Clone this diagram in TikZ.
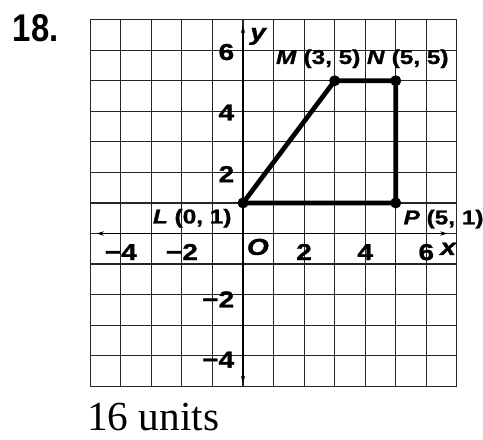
\documentclass[tikz,border=0pt]{standalone}
\usepackage{fontspec}
\setmainfont{Liberation Serif}
\newfontfamily\lblfont[FakeStretch=1.22, BoldFeatures={FakeBold=1.2}, BoldItalicFeatures={FakeBold=1.2}]{Liberation Sans}
\newfontfamily\numfont[FakeStretch=0.85]{Liberation Sans}
\usetikzlibrary{arrows.meta}

\tikzset{
  gridline/.style={line width=1.1pt, black!85},
  axisline/.style={line width=1.6pt, black, >={Stealth[length=7pt,width=4pt]}},
  edge/.style={line width=4.4pt, black, line join=round},
  ptlabel/.style={inner sep=0pt, font=\lblfont\bfseries\fontsize{18.6}{21}\selectfont},
  ticklabel/.style={inner sep=0pt, font=\lblfont\bfseries\fontsize{21.5}{25}\selectfont},
}

\begin{document}
\begin{tikzpicture}
    \useasboundingbox (-7.954,-6.727) rectangle (7.856,7.643);
    % grid and axes
    \draw[gridline] (-5,-5) grid (7,7);
    \draw[axisline, <->] (-4.8,0) -- (6.7,0);
    \draw[axisline, <->] (0,-4.9) -- (0,6.8);
    \node[ticklabel, anchor=base west] (xlab) at (6.45,-0.70) {\itshape x};
    \node[ticklabel, anchor=base west] (ylab) at (0.23,6.33) {\itshape y};
    \node[ticklabel, anchor=base west] (olab) at (0.12,-0.70) {\itshape O};
    % tick labels
    \foreach \t/\s in {-4/−4, -2/−2, 2/2, 4/4, 6/6}
        \node[ticklabel, anchor=base] (xt\t) at (\t,-0.87) {\s};
    \foreach \t/\s/\d in {6/6/0.32, 4/4/0.30, 2/2/0.32, -2/−2/0.42, -4/−4/0.39}
        \node[ticklabel, anchor=base east] (yt\t) at (-0.28,\t-\d) {\s};
    % quadrilateral LMNP
    \coordinate (L) at (0,1);
    \coordinate (M) at (3,5);
    \coordinate (N) at (5,5);
    \coordinate (P) at (5,1);
    \draw[edge] (L) -- (M) -- (N) -- (P) -- cycle;
    \foreach \v in {L,M,N,P}
        \fill (\v) circle (0.18);
    \node[ptlabel, anchor=base east] (Mlab) at (3.85,5.55) {\textit{M} (3, 5)};
    \node[ptlabel, anchor=base west] (Nlab) at (4.05,5.55) {\textit{N} (5, 5)};
    \node[ptlabel, anchor=base east] (Llab) at (-0.37,0.33) {\textit{L} (0, 1)};
    \node[ptlabel, anchor=base west] (Plab) at (5.25,0.30) {\textit{P} (5, 1)};
    % problem number and answer
    \node[inner sep=0pt, anchor=base west, font=\numfont\bfseries\fontsize{36}{40}\selectfont] (num) at (-7.54,6.28) {18.};
    \node[inner sep=0pt, anchor=base west, font=\fontsize{38.5}{44}\selectfont] (ans) at (-5.11,-6.45) {16 units};
\end{tikzpicture}
\end{document}
